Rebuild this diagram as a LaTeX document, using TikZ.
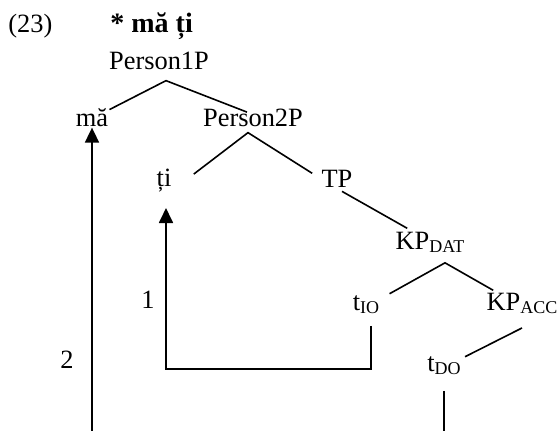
\documentclass[tikz,border=0pt]{standalone}
\usepackage{fontspec}
\setmainfont{Liberation Serif}
\usepackage{tikz}
\usetikzlibrary{arrows.meta,calc}
\newcommand{\lowsub}[1]{\raisebox{-1.2pt}{\fontsize{9}{10}\selectfont #1}}

\begin{document}
\begin{tikzpicture}[x=0.5pt,y=-0.5pt,font=\fontsize{13.2}{15}\selectfont]
    \useasboundingbox (0,0) rectangle (557,431);
    \tikzstyle{word}=[inner sep=0pt,anchor=base]  % tree labels sit on their baseline
    \tikzstyle{branch}=[line width=0.8pt]  % tree edges
    \tikzstyle{move}=[line width=0.9pt,-{Triangle[width=7pt,length=7.5pt]}]  % movement arrows

    % header
    \node[word,anchor=base west](num) at (8,33){(23)};
    \node[word,anchor=base west](title) at (110,33){\fontsize{14}{16}\selectfont\textbf{* mă ți}};
    % tree
    \node[word](p1) at (159,70){Person1P};
    \node[word](ma) at (92,127){mă};
    \node[word](p2) at (253,127){Person2P};
    \node[word](ti) at (164,187){ți};
    \node[word](tp) at (337,188){TP};
    \node[word](kpd) at (430,250){KP\lowsub{DAT}};
    \node[word](tio) at (366,311){t\lowsub{IO}};
    \node[word](kpa) at (522,311){KP\lowsub{ACC}};
    \node[word](tdo) at (444,372){t\lowsub{DO}};
    % arrow labels
    \node[word](one) at (148,309){1};
    \node[word](two) at (67,369){2};
    \coordinate(bot1) at (92,431);
    \coordinate(bot2) at (444,431);

    % edges
    \draw[branch]($(ma.north east)+(1,1)$) -- ($(p1.south)+(7,10)$) -- ($(p2.north)+(-6,3)$);
    \draw[branch]($(ti.north east)+(22,5)$) -- ($(p2.south)+(-5,5)$) -- ($(tp.north west)+(-9,3)$);
    \draw[branch]($(tp.south)+(5,3)$) -- ($(kpd.north west)+(12,-4)$);
    \draw[branch]($(tio.north east)+(10,-2)$) -- ($(kpd.south)+(15,10)$) -- ($(kpa.north west)+(7,-3)$);
    \draw[branch]($(kpa.south)+(0,14)$) -- ($(tdo.north east)+(4,0)$);
    \draw[branch]($(tdo.south)+(0,16)$) -- (bot2);
    % movements
    \draw[move]($(tio.south)+(5,12)$) -- ++(0,43) -| ($(ti.south)+(2,15)$);
    \draw[move](bot1) -- (ma.south);
\end{tikzpicture}
\end{document}
